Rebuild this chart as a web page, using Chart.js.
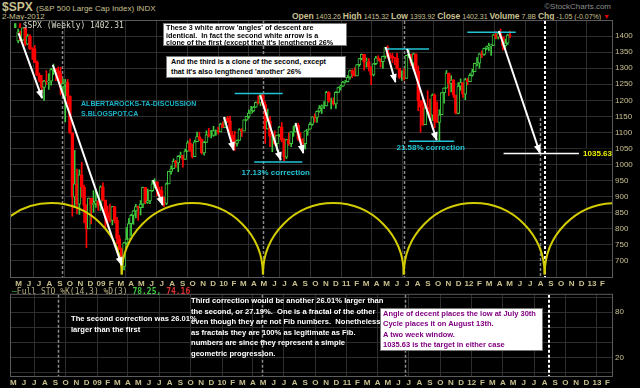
<!DOCTYPE html>
<html>
<head>
<meta charset="utf-8">
<script src="https://cdn.jsdelivr.net/npm/chart.js@4.4.1/dist/chart.umd.min.js"></script>
<style>
  body { margin: 0; background: #000; width: 640px; height: 388px; overflow: hidden; position: relative;
         font-family: "Liberation Sans", Arial, sans-serif; }
  canvas { position: absolute; left: 0; }
  #main { top: 0; }
  #sto { top: 287px; }
  .t { position: absolute; white-space: nowrap; }
  .hdr { color: #c8c090; }
  .box { position: absolute; background: #fff; border: 1px solid #777; color: #000; font-weight: bold;
         white-space: nowrap; }
  .note { position: absolute; color: #fff; font-weight: bold; white-space: nowrap; }
</style>
</head>
<body>
<div class="t hdr" style="left:2px;top:0px;font-size:12px;font-weight:bold">$SPX <span style="font-size:8px;font-weight:normal">(S&amp;P 500 Large Cap Index) INDX</span></div>
<div class="t hdr" style="left:2px;top:12px;font-size:8px">2-May-2012</div>
<div class="t" style="right:29px;top:2px;font-size:8px;color:#8c8c8c">&#169;StockCharts.com</div>
<div class="t hdr" style="right:30px;top:11px;font-size:7px"><b style="font-size:8.5px">Open</b> 1403.26 <b style="font-size:8.5px">High</b> 1415.32 <b style="font-size:8.5px">Low</b> 1393.92 <b style="font-size:8.5px">Close</b> 1402.31 <b style="font-size:8.5px">Volume</b> 7.8B <b style="font-size:8.5px">Chg</b> -1.05 (-0.07%) <span style="color:#e00000">&#9660;</span></div>

<canvas id="main" width="640" height="289"></canvas>
<canvas id="sto" width="640" height="101"></canvas>

<div class="t" style="left:13px;top:21px;font-size:8px;color:#d8d8c8;font-family:'DejaVu Sans Mono',monospace"><span style="color:#3ec83e">&#9646;</span><span style="color:#e00000">&#9646;</span>$SPX (Weekly) 1402.31</div>
<div class="t" style="left:12px;top:287px;font-size:8px;color:#b4ac80;font-family:'DejaVu Sans Mono',monospace"><span style="color:#3ec83e">&#8212;</span>Full STO %K(14,3) %D(3) <b style="color:#3ec83e">78.25,</b> <b style="color:#e03030">74.16</b></div>

<div class="box" style="left:163px;top:23px;width:179px;height:21px;padding:0 1px 0 2px;font-size:7.2px;line-height:7.6px">These 3 white arrow 'angles' of descent are<br>identical.&nbsp; In fact the second white arrow is a<br>clone of the first (except that it's lengthened 26%</div>
<div class="box" style="left:166px;top:56px;width:173px;height:20px;padding:0 1px 0 4px;font-size:7.2px;line-height:9.5px">And the third is a clone of the second, except<br>that it's also lengthened 'another' 26%</div>

<div class="note" style="left:71px;top:313px;font-size:7.6px;line-height:11px">The second correction was 26.01%<br>larger than the first</div>
<div class="note" style="left:191px;top:296px;font-size:7.6px;line-height:10.5px">Third correction would be another 26.01% larger than<br>the second, or 27.19%.&nbsp; One is a fractal of the other<br>even though they are not Fib numbers.&nbsp; Nonetheless<br>as fractals they are 100% as legitimate as Fib.<br>numbers are since they represent a simple<br>geometric progression.</div>
<div class="box" style="left:380px;top:308px;width:158px;height:41px;padding:0 1px 0 2px;color:#800080;font-size:7.5px;line-height:10.4px">Angle of decent places the low at July 30th<br>Cycle places it on August 13th.<br>A two week window.<br>1035.63 is the target in either case</div>

<script>
// weekly bars, first week starting Monday 2008-04-28, opens follow previous close
const firstWeek = "2008-04-28";
const firstOpen = 1385;

const weekClose = [
  1413, 1388, 1426, 1375, 1400, 1361, 1360, 1318, 1278, 1262, 1240, 1260, 1257, 1260, 1296, 1298, 1292, 1283,
  1242, 1252, 1255, 1213, 1099, 899, 940, 877, 968, 930, 873, 800, 896, 876, 879, 887, 873,
  931, 890, 850, 832, 826, 869, 827, 770, 735, 683, 756, 768, 816, 842, 856, 869, 866, 877, 929, 882, 887, 919,
  940, 946, 921, 918, 896, 879, 940, 979, 987, 1010, 1005, 1026, 1029, 1016, 1042, 1068, 1044,
  1025, 1071, 1087, 1079, 1036, 1069, 1093, 1091, 1091, 1106, 1106, 1102, 1126, 1115,
  1145, 1136, 1092, 1074, 1066, 1075, 1109, 1104, 1139, 1150, 1160, 1167, 1179, 1194, 1192, 1217, 1187,
  1111, 1136, 1088, 1089, 1065, 1092, 1117, 1076, 1023, 1078, 1065, 1102, 1102, 1122, 1079, 1071, 1065,
  1105, 1110, 1125, 1149, 1147, 1166, 1176, 1183, 1183, 1225, 1199, 1199, 1189, 1225, 1240, 1244, 1257, 1258,
  1272, 1293, 1283, 1276, 1311, 1330, 1343, 1320, 1321, 1304, 1279, 1314, 1332, 1329, 1320, 1337, 1364,
  1340, 1338, 1333, 1331, 1300, 1271, 1271, 1268, 1340, 1344, 1316, 1345, 1292, 1199, 1179, 1124, 1177,
  1174, 1154, 1216, 1136, 1131, 1155, 1224, 1238, 1285, 1253, 1263, 1216, 1159, 1244, 1255, 1219, 1265, 1258,
  1278, 1289, 1315, 1316, 1345, 1343, 1362, 1366, 1370, 1371, 1404, 1397, 1408, 1398, 1370, 1378, 1403, 1402
];
const weekHigh = [
  1422, 1416, 1426, 1426, 1406, 1404, 1364, 1371, 1323, 1285, 1278, 1262, 1292, 1283, 1300, 1313, 1300, 1304,
  1303, 1266, 1265, 1265, 1214, 1099, 1044, 986, 984, 1007, 936, 875, 896, 896, 919, 918, 887,
  934, 943, 888, 871, 877, 870, 870, 836, 780, 740, 758, 804, 832, 845, 857, 876, 871, 888, 930, 925, 924, 920,
  951, 956, 946, 930, 931, 899, 943, 979, 996, 1018, 1013, 1028, 1039, 1028, 1048, 1074, 1080,
  1064, 1076, 1101, 1101, 1080, 1072, 1105, 1113, 1107, 1119, 1108, 1117, 1129, 1133,
  1146, 1150, 1151, 1103, 1104, 1077, 1112, 1112, 1139, 1150, 1170, 1181, 1181, 1195, 1214, 1218, 1220,
  1196, 1173, 1150, 1104, 1105, 1092, 1119, 1131, 1081, 1079, 1099, 1103, 1120, 1129, 1129, 1100, 1081,
  1105, 1110, 1131, 1149, 1158, 1167, 1184, 1186, 1196, 1228, 1227, 1207, 1208, 1227, 1241, 1247, 1259, 1262,
  1278, 1294, 1296, 1302, 1311, 1331, 1344, 1341, 1332, 1330, 1305, 1315, 1337, 1339, 1329, 1338, 1364,
  1370, 1346, 1346, 1334, 1346, 1300, 1292, 1298, 1340, 1356, 1344, 1347, 1345, 1307, 1199, 1208, 1190,
  1230, 1204, 1220, 1220, 1195, 1171, 1224, 1239, 1293, 1285, 1277, 1265, 1216, 1255, 1267, 1255, 1269, 1269,
  1283, 1297, 1316, 1333, 1346, 1354, 1363, 1369, 1378, 1374, 1406, 1414, 1410, 1422, 1398, 1391, 1406, 1416
];
const weekLow = [
  1379, 1384, 1386, 1370, 1373, 1358, 1327, 1317, 1277, 1257, 1225, 1200, 1249, 1234, 1247, 1280, 1261, 1263,
  1217, 1212, 1133, 1189, 1097, 839, 866, 846, 845, 898, 818, 741, 801, 815, 851, 867, 857,
  857, 887, 804, 805, 821, 812, 818, 754, 735, 667, 672, 750, 768, 779, 814, 834, 826, 843, 866, 878, 879, 878,
  916, 927, 903, 888, 896, 869, 875, 940, 970, 987, 991, 978, 1021, 992, 1016, 1041, 1041,
  1020, 1025, 1072, 1074, 1033, 1029, 1069, 1086, 1083, 1088, 1091, 1095, 1102, 1115,
  1116, 1131, 1090, 1071, 1044, 1057, 1075, 1087, 1105, 1136, 1144, 1160, 1165, 1178, 1188, 1183, 1184,
  1066, 1110, 1056, 1040, 1061, 1043, 1087, 1071, 1011, 1018, 1060, 1056, 1088, 1102, 1075, 1069, 1040,
  1048, 1091, 1110, 1122, 1132, 1131, 1163, 1159, 1174, 1182, 1194, 1173, 1185, 1175, 1224, 1232, 1243, 1254,
  1257, 1266, 1271, 1275, 1276, 1306, 1326, 1294, 1303, 1291, 1249, 1276, 1311, 1323, 1303, 1299, 1331,
  1331, 1330, 1318, 1311, 1297, 1268, 1262, 1263, 1268, 1333, 1308, 1295, 1283, 1168, 1101, 1122, 1124,
  1174, 1140, 1137, 1114, 1131, 1074, 1159, 1191, 1238, 1215, 1226, 1209, 1158, 1158, 1231, 1209, 1202, 1248,
  1258, 1275, 1289, 1307, 1300, 1333, 1340, 1357, 1354, 1340, 1371, 1391, 1391, 1394, 1357, 1358, 1374, 1394
];

const monthLetters = ["J", "F", "M", "A", "M", "J", "J", "A", "S", "O", "N", "D"];
const axisStart = "2008-04-24";
const axisEnd = "2013-02-14";
const priceTicks = [700, 750, 800, 850, 900, 950, 1000, 1050, 1100, 1150, 1200, 1250, 1300, 1350, 1400];
const priceMin = 650;
const priceMax = 1447;
const stoTicks = [20, 50, 80];
const stoMin = -4;
const stoMax = 103;

// annotations (dates + prices)
const cycleLows = ["2009-03-04", "2010-04-28", "2011-06-21", "2012-08-13"];
const cycleBase = 658;
const cycleTop = 880;
const markerDates = ["2008-09-08", "2010-04-28", "2011-06-21"];
const cycleTarget = "2012-08-13";
const angleTarget = "2012-07-30";
const angleTargetTop = 1145;
const targetPrice = 1035.63;
const targetLine = ["2012-04-13", "2012-11-23"];
const arrowLines = [
  ["2008-05-01", 1409, "2008-07-10", 1207],
  ["2008-08-11", 1310, "2009-03-04", 687],
  ["2009-06-05", 952, "2009-07-04", 874],
  ["2010-01-02", 1148, "2010-01-31", 1045],
  ["2010-04-20", 1216, "2010-06-20", 1014],
  ["2010-08-03", 1129, "2010-08-26", 1036],
  ["2011-04-28", 1366, "2011-05-27", 1257],
  ["2011-07-01", 1360, "2011-09-27", 1076],
  ["2012-03-30", 1416, "2012-07-30", 1036]
];
const cyanLines = [
  ["2010-02-03", "2010-06-26", 1221],
  ["2010-04-02", "2010-08-23", 1008],
  ["2011-04-28", "2011-09-04", 1360],
  ["2011-07-07", "2011-11-18", 1073],
  ["2011-12-27", "2012-05-19", 1412]
];
const correctionLabels = [
  ["17.13% correction", "2010-06-05", 974],
  ["21.58% correction", "2011-09-09", 1051]
];
const blogLines = ["ALBERTAROCKS-TA-DISCUSSION", "S.BLOGSPOT.CA"];
const blogAt = ["2008-11-03", 1188, 1157];

const GREEN = "#3ec83e";
const RED = "#ff0000";
const GRID = "#2e2e2e";
const LABEL = "#c8c08c";
const FONT = "Liberation Sans";

const T0 = Date.UTC(2008, 0, 1);
const day = (s) => (Date.parse(s) - T0) / 864e5;

const weekX = weekClose.map((c, i) => day(firstWeek) + 2 + 7 * i);
const weekOpen = weekClose.map((c, i) => (i ? weekClose[i - 1] : firstOpen));
const up = weekClose.map((c, i) => c >= weekOpen[i]);

const monthTicks = [];
for (let y = 2008; y <= 2013; y++) {
  for (let m = 0; m < 12; m++) {
    const v = (Date.UTC(y, m, 1) - T0) / 864e5;
    if (v >= day(axisStart) && v <= day(axisEnd)) monthTicks.push({ v, m, y });
  }
}

function xAxis() {
  return {
    type: "linear",
    min: day(axisStart),
    max: day(axisEnd),
    afterBuildTicks: (s) => { s.ticks = monthTicks.map((t) => ({ value: t.v })); },
    afterFit: (s) => { s.height = 12; },
    ticks: {
      autoSkip: false, maxRotation: 0, padding: 2, color: LABEL,
      font: { family: FONT, size: 8, weight: "bold" },
      callback: (v, i) => {
        const t = monthTicks[i];
        return t.m === 0 ? String(t.y).slice(2) : monthLetters[t.m];
      },
    },
    grid: {
      drawTicks: false,
      color: (c) => {
        const t = monthTicks[c.index];
        return t && t.m % 3 === 0 ? GRID : "rgba(0,0,0,0)";
      },
    },
    border: { display: false },
  };
}

function dashedMarkers(chart, withAngle) {
  const { ctx, chartArea: a, scales: { x, y } } = chart;
  ctx.save();
  ctx.lineWidth = 1.5;
  ctx.setLineDash([3, 2]);
  ctx.strokeStyle = "#8a8a8a";
  markerDates.forEach((d) => {
    const px = Math.round(x.getPixelForValue(day(d))) + 0.5;
    ctx.beginPath(); ctx.moveTo(px, a.top); ctx.lineTo(px, a.bottom); ctx.stroke();
  });
  if (withAngle) {
    const px = Math.round(x.getPixelForValue(day(angleTarget))) + 0.5;
    ctx.beginPath(); ctx.moveTo(px, y.getPixelForValue(angleTargetTop)); ctx.lineTo(px, a.bottom); ctx.stroke();
  }
  ctx.lineWidth = 2;
  ctx.strokeStyle = "#ffffff";
  const px = Math.round(x.getPixelForValue(day(cycleTarget)));
  ctx.beginPath(); ctx.moveTo(px, a.top); ctx.lineTo(px, a.bottom); ctx.stroke();
  ctx.restore();
}

function frame(chart) {
  const { ctx, chartArea: a } = chart;
  ctx.save();
  ctx.strokeStyle = "#5a5a5a";
  ctx.lineWidth = 1;
  ctx.strokeRect(a.left - 0.5, a.top - 0.5, a.right - a.left + 1, a.bottom - a.top + 1);
  ctx.restore();
}

function drawArrow(ctx, x1, y1, x2, y2) {
  ctx.beginPath(); ctx.moveTo(x1, y1); ctx.lineTo(x2, y2); ctx.stroke();
  const ang = Math.atan2(y2 - y1, x2 - x1);
  const L = 8, W = 3.5;
  const c = Math.cos(ang), s = Math.sin(ang);
  ctx.beginPath();
  ctx.moveTo(x2 + c * 1, y2 + s * 1);
  ctx.lineTo(x2 - L * c + W * s, y2 - L * s - W * c);
  ctx.lineTo(x2 - L * c - W * s, y2 - L * s + W * c);
  ctx.closePath();
  ctx.fill();
}

const mainOverlay = {
  id: "mainOverlay",
  beforeDatasetsDraw(chart) { dashedMarkers(chart, true); },
  afterDatasetsDraw(chart) {
    const { ctx, chartArea: a, scales: { x, y } } = chart;
    ctx.save();
    ctx.beginPath();
    ctx.rect(a.left, a.top, a.right - a.left, a.bottom - a.top);
    ctx.clip();

    // cycle arcs
    const period = day(cycleLows[1]) - day(cycleLows[0]);
    const cusps = [day(cycleLows[0]) - period, ...cycleLows.map(day), day(cycleLows[cycleLows.length - 1]) + period];
    const yb = y.getPixelForValue(cycleBase), yt = y.getPixelForValue(cycleTop);
    ctx.strokeStyle = "#d2cc00";
    ctx.lineWidth = 2;
    for (let i = 0; i < cusps.length - 1; i++) {
      const xa = x.getPixelForValue(cusps[i]), xb = x.getPixelForValue(cusps[i + 1]);
      ctx.beginPath();
      ctx.ellipse((xa + xb) / 2, yb, (xb - xa) / 2, yb - yt, 0, Math.PI, 2 * Math.PI);
      ctx.stroke();
    }

    // cyan range lines
    ctx.strokeStyle = "#22c4d4";
    ctx.lineWidth = 1.5;
    cyanLines.forEach(([d1, d2, p]) => {
      const py = y.getPixelForValue(p);
      ctx.beginPath(); ctx.moveTo(x.getPixelForValue(day(d1)), py); ctx.lineTo(x.getPixelForValue(day(d2)), py); ctx.stroke();
    });

    // target line
    ctx.strokeStyle = "#ffffff";
    const ty = Math.round(y.getPixelForValue(targetPrice)) + 0.5;
    ctx.beginPath();
    ctx.moveTo(x.getPixelForValue(day(targetLine[0])), ty);
    ctx.lineTo(x.getPixelForValue(day(targetLine[1])), ty);
    ctx.stroke();

    // arrows
    ctx.strokeStyle = "#ffffff";
    ctx.fillStyle = "#ffffff";
    ctx.lineWidth = 2;
    arrowLines.forEach(([d1, p1, d2, p2]) => {
      drawArrow(ctx, x.getPixelForValue(day(d1)), y.getPixelForValue(p1), x.getPixelForValue(day(d2)), y.getPixelForValue(p2));
    });

    // labels
    ctx.textBaseline = "middle";
    ctx.font = "bold 8px " + FONT;
    ctx.fillStyle = "#22c4d4";
    ctx.textAlign = "center";
    correctionLabels.forEach(([txt, d, p]) => ctx.fillText(txt, x.getPixelForValue(day(d)), y.getPixelForValue(p)));
    ctx.textAlign = "left";
    ctx.font = "bold 7px " + FONT;
    ctx.fillStyle = "#1cb4c8";
    blogLines.forEach((txt, i) => ctx.fillText(txt, x.getPixelForValue(day(blogAt[0])), y.getPixelForValue(blogAt[1 + i])));

    ctx.font = "bold 8px " + FONT;
    const lbl = targetPrice.toFixed(2);
    const w = ctx.measureText(lbl).width;
    ctx.fillStyle = "#000";
    ctx.fillRect(a.right - w - 2, ty - 5, w + 2, 10);
    ctx.fillStyle = "#f0f000";
    ctx.textAlign = "right";
    ctx.fillText(lbl, a.right, ty);
    ctx.restore();
  },
  afterDraw(chart) { frame(chart); },
};

const stoOverlay = {
  id: "stoOverlay",
  beforeDatasetsDraw(chart) { dashedMarkers(chart, false); },
  afterDraw(chart) { frame(chart); },
};

new Chart(document.getElementById("main"), {
  type: "bar",
  data: {
    datasets: [
      {
        data: weekClose.map((c, i) => ({ x: weekX[i], y: [weekLow[i], weekHigh[i]] })),
        backgroundColor: up.map((u) => (u ? GREEN : RED)),
        barThickness: 1,
        grouped: false,
        order: 2,
      },
      {
        data: weekClose.map((c, i) => ({ x: weekX[i], y: [weekOpen[i], c] })),
        backgroundColor: up.map((u) => (u ? "#000" : RED)),
        borderColor: up.map((u) => (u ? GREEN : RED)),
        borderWidth: 1,
        borderSkipped: false,
        barThickness: 3,
        grouped: false,
        order: 1,
      },
    ],
  },
  options: {
    responsive: false,
    animation: false,
    devicePixelRatio: 1,
    layout: { padding: { left: 11, top: 21, right: 0, bottom: 0 } },
    plugins: { legend: { display: false }, tooltip: { enabled: false } },
    scales: {
      x: xAxis(),
      y: {
        position: "right",
        min: priceMin,
        max: priceMax,
        afterBuildTicks: (s) => { s.ticks = [priceMin, ...priceTicks].map((v) => ({ value: v })); },
        afterFit: (s) => { s.width = 28; },
        ticks: {
          padding: 3, color: LABEL, font: { family: FONT, size: 8 },
          callback: (v) => (v === priceMin ? "" : v),
        },
        grid: { drawTicks: false, color: GRID },
        border: { display: false },
      },
    },
  },
  plugins: [mainOverlay],
});

new Chart(document.getElementById("sto"), {
  type: "line",
  data: { datasets: [{ data: [] }] },
  options: {
    responsive: false,
    animation: false,
    devicePixelRatio: 1,
    layout: { padding: { left: 11, top: 0, right: 0, bottom: 0 } },
    plugins: { legend: { display: false }, tooltip: { enabled: false } },
    scales: {
      x: xAxis(),
      y: {
        position: "right",
        min: stoMin,
        max: stoMax,
        afterBuildTicks: (s) => {
          const t = [];
          for (let v = 0; v <= 100; v += 10) t.push({ value: v });
          s.ticks = t;
        },
        afterFit: (s) => { s.width = 28; },
        ticks: {
          padding: 3, color: LABEL, font: { family: FONT, size: 8 },
          callback: (v) => (stoTicks.includes(v) ? v : ""),
        },
        grid: { drawTicks: false, color: GRID },
        border: { display: false },
      },
    },
  },
  plugins: [stoOverlay],
});
</script>
</body>
</html>
